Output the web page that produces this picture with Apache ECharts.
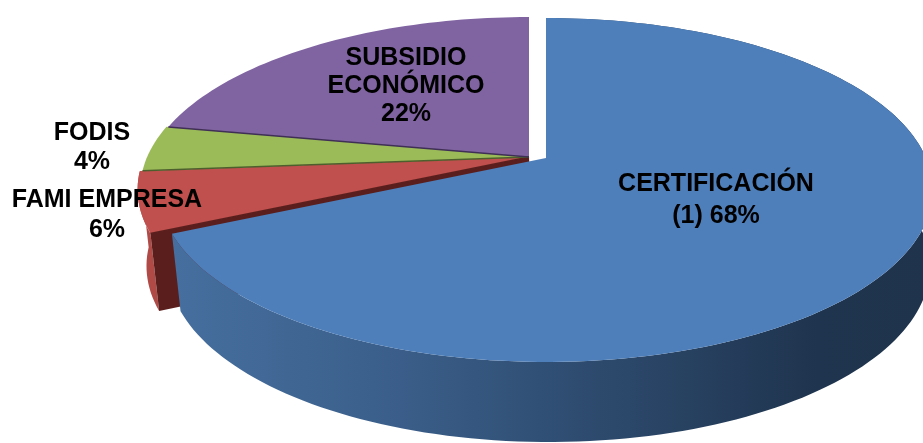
<!DOCTYPE html>
<html>
<head>
<meta charset="utf-8">
<title>pie</title>
<style>
html,body{margin:0;padding:0;background:#fff}
#main{width:923px;height:443px}
</style>
<script src="https://cdn.jsdelivr.net/npm/echarts@6/dist/echarts.min.js"></script>
</head>
<body>
<div id="main"></div>
<script>
// values, clockwise from 12 o'clock
let categories=['CERTIFICACIÓN\n(1)','FAMI EMPRESA','FODIS','SUBSIDIO\nECONÓMICO']
let pieValues=[68.1,5.6,4.3,22]
let labelSep=[' ','\n','\n','\n']

// look of the slices
let topColors=['#4e7fba','#bf504d','#9bbb59','#8064a2']
// green and purple walls sit behind the disc, so they have none
let sideColors=[
  [[0,'#466f9f'],[0.3,'#3a5e89'],[0.6,'#2b4769'],[0.85,'#1f344e'],[1,'#1f334c']],
  [[0,'#b04a47'],[1,'#b04a47']],
  null,
  null
]
let edgeColors=[null,'#5a1f1d','#4d5f2c','#3f2f55']
// walls go under every top face, the blue slice goes over everything
let wallOrder=[40,3,2,1]
let topOrder=[41,10,11,12]
let labelPos=[[716,200],[107,215],[92,148],[406,86]]
let labelLine=[32,30,29,28]
let centers=[[546,158],[529,157],[529,157],[529,157]]
let spread=[1,1.012,1.005,1]

// perspective of the disc
let S=380,T=166,P=0.186,depth=76,sideX=0.985,sideY=1.02,sideShift=3

function project(c,r,deg,low){
  let a=deg*Math.PI/180
  let X=Math.sin(a),Y=Math.cos(a)
  let w=1+P*Y
  let x=r*S*X/w,y=-r*T*Y/w
  if(low) return [c[0]+sideShift+x*sideX,c[1]+depth+y*sideY]
  return [c[0]+x,c[1]+y]
}
function arc(c,r,from,to,low){
  let pts=[]
  let n=Math.max(2,Math.ceil((to-from)/1.5))
  for(let i=0;i<=n;i++) pts.push(project(c,r,from+(to-from)*i/n,low))
  return pts
}
let total=pieValues.reduce(function(a,b){return a+b},0)

function renderSlice(params,api){
  let i=params.dataIndex
  let before=0
  for(let k=0;k<i;k++) before+=pieValues[k]
  let from=before/total*360
  let to=(before+api.value(0))/total*360
  let c=centers[i]
  let topArc=arc(c,spread[i],from,to,false)
  let lowArc=arc(c,spread[i],from,to,true)
  let apexLow=[c[0]+sideShift,c[1]+depth]
  let children=[]
  // outer wall
  if(sideColors[i]){
    children.push({
      type:'polygon',z2:wallOrder[i],
      shape:{points:topArc.concat(lowArc.slice().reverse())},
      style:{fill:{type:'linear',x:0,y:0,x2:1,y2:0,colorStops:sideColors[i].map(function(s){return {offset:s[0],color:s[1]}})}}
    })
  }
  // cut face, only the red one shows
  if(i==1){
    children.push({
      type:'polygon',z2:wallOrder[i]+1,
      shape:{points:[c,topArc[0],lowArc[0],apexLow]},
      style:{fill:edgeColors[i]}
    })
  }
  // top face
  children.push({
    type:'polygon',z2:topOrder[i],
    shape:{points:[c].concat(topArc)},
    style:{fill:topColors[i]}
  })
  // dark seam along the slice start
  if(edgeColors[i]){
    children.push({
      type:'polyline',z2:20,
      shape:{points:[c,topArc[0]]},
      style:{fill:null,stroke:edgeColors[i],lineWidth:1.5}
    })
  }
  // label
  children.push({
    type:'text',z2:100,
    style:{
      x:labelPos[i][0],y:labelPos[i][1],
      text:categories[i]+labelSep[i]+Math.round(api.value(0))+'%',
      fontFamily:'Liberation Sans',fontWeight:'bold',fontSize:25,lineHeight:labelLine[i],
      fill:'#000',align:'center',verticalAlign:'middle'
    }
  })
  return {type:'group',children:children}
}

let chart=echarts.init(document.getElementById('main'),null,{width:923,height:443})
chart.setOption({
  animation:false,
  backgroundColor:'#fff',
  series:[{
    type:'custom',
    coordinateSystem:'none',
    silent:true,
    renderItem:renderSlice,
    data:pieValues.map(function(v,i){return {name:categories[i],value:[v]}})
  }]
})
</script>
</body>
</html>
